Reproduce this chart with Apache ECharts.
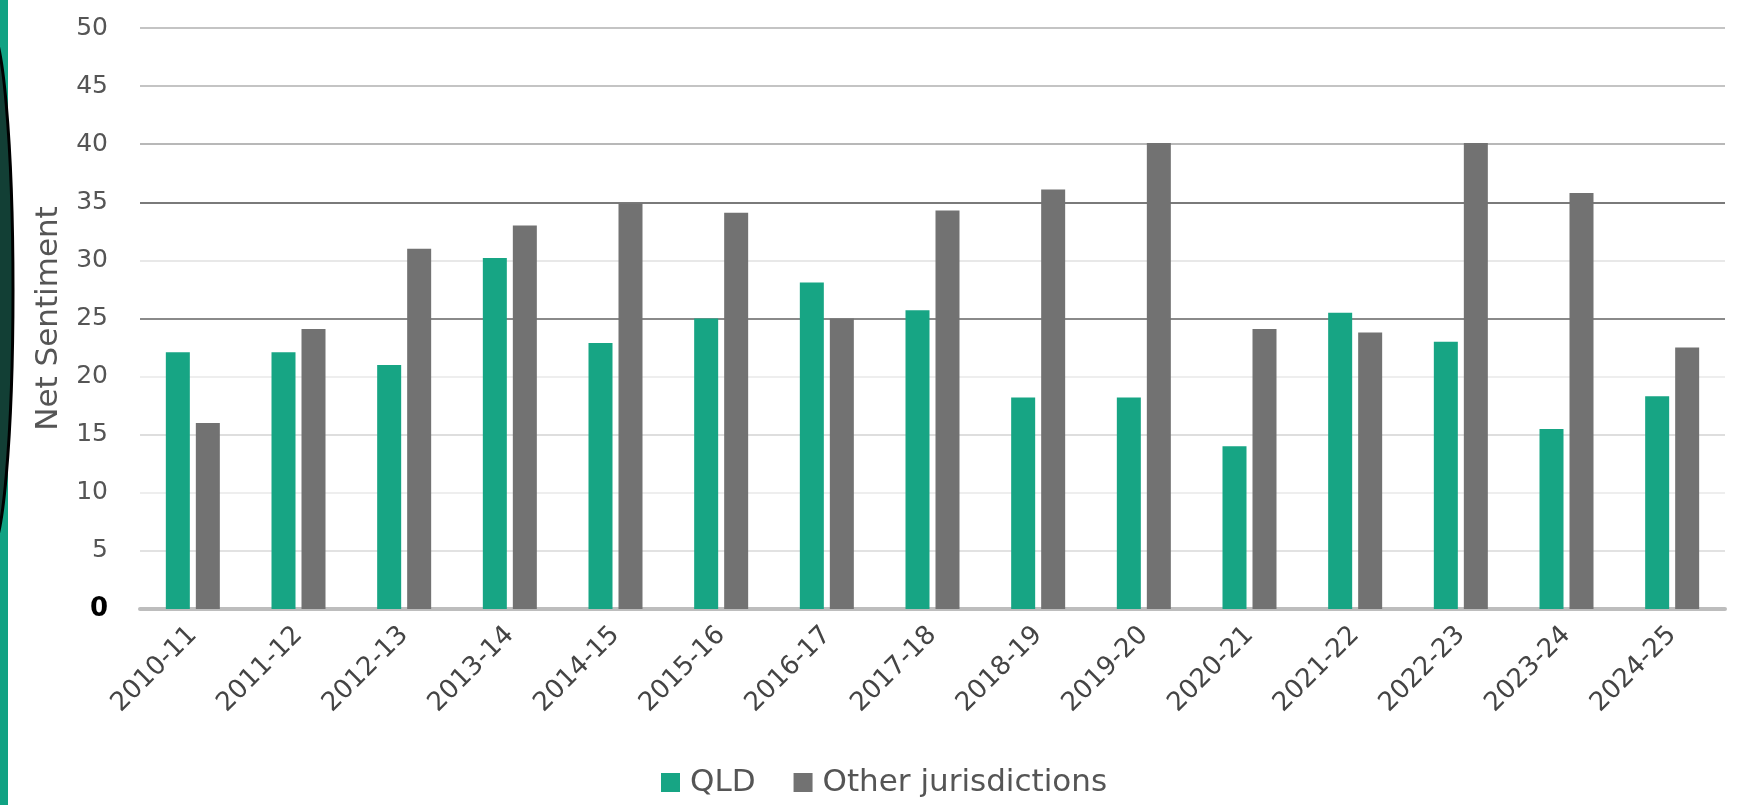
<!DOCTYPE html>
<html>
<head>
<meta charset="utf-8">
<script src="https://cdn.jsdelivr.net/npm/echarts@6/dist/echarts.min.js"></script>
<style>
html,body{margin:0;padding:0;background:#fff;}
#c{width:1741px;height:805px;}
</style>
</head>
<body>
<div id="c"></div>
<script>
const categories = ['2010-11','2011-12','2012-13','2013-14','2014-15','2015-16','2016-17','2017-18','2018-19','2019-20','2020-21','2021-22','2022-23','2023-24','2024-25'];
const qld = [22.1, 22.1, 21.0, 30.2, 22.9, 25.0, 28.1, 25.7, 18.2, 18.2, 14.0, 25.5, 23.0, 15.5, 18.3];
const other = [16.0, 24.1, 31.0, 33.0, 34.9, 34.1, 25.0, 34.3, 36.1, 40.1, 24.1, 23.8, 40.1, 35.8, 22.5];
const yTicks = [0,5,10,15,20,25,30,35,40,45,50];
const seriesNames = ['QLD','Other jurisdictions'];

const FONT = 'DejaVu Sans';
const chart = echarts.init(document.getElementById('c'), null, {renderer:'canvas'});
chart.setOption({
  animation:false,
  backgroundColor:'#ffffff',
  graphic:[
    {type:'rect', left:0, top:0, shape:{width:8, height:805}, style:{fill:'#10a283'}, z:10},
    {type:'ellipse', shape:{cx:-10, cy:290, rx:23, ry:262}, style:{fill:'#123f35', stroke:'#000', lineWidth:3}, z:11}
  ],
  grid:{left:140, right:16, top:28, bottom:196, containLabel:false},
  legend:{
    data:seriesNames,
    bottom:2,
    left:656,
    itemWidth:19, itemHeight:19, itemGap:38,
    icon:'rect',
    textStyle:{fontFamily:FONT, fontSize:31, color:'#555', padding:[0,0,0,5]}
  },
  xAxis:{
    type:'category',
    data:categories,
    axisTick:{show:false},
    axisLine:{show:true, lineStyle:{color:'#bdbdbd', width:4}},
    axisLabel:{rotate:45, margin:22, interval:0, fontFamily:FONT, fontSize:26, color:'#444'}
  },
  yAxis:{
    type:'value',
    min:0, max:50, interval:5,
    name:'Net Sentiment',
    nameLocation:'middle',
    nameGap:76,
    nameTextStyle:{fontFamily:FONT, fontSize:31, color:'#555'},
    axisLine:{show:false},
    axisTick:{show:false},
    axisLabel:{
      margin:32,
      fontFamily:FONT, fontSize:25, color:'#555',
      formatter:function(v){ return v===0 ? '{z|0}' : String(v); },
      rich:{z:{fontFamily:FONT, fontSize:26, fontWeight:'bold', color:'#000'}}
    },
    splitLine:{show:true, lineStyle:{
      color:['#bdbdbd','#e2e2e2','#eeeeee','#dedede','#eeeeee','#8a8a8a','#e8e8e8','#7a7a7a','#b8b8b8','#c4c4c4','#c4c4c4'],
      width:2
    }}
  },
  series:[
    {name:seriesNames[0], type:'bar', data:qld, barWidth:24, barGap:'25%', itemStyle:{color:'#17a584'}},
    {name:seriesNames[1], type:'bar', data:other, barWidth:24, barGap:'25%', itemStyle:{color:'#727272'}}
  ]
});
</script>
</body>
</html>
